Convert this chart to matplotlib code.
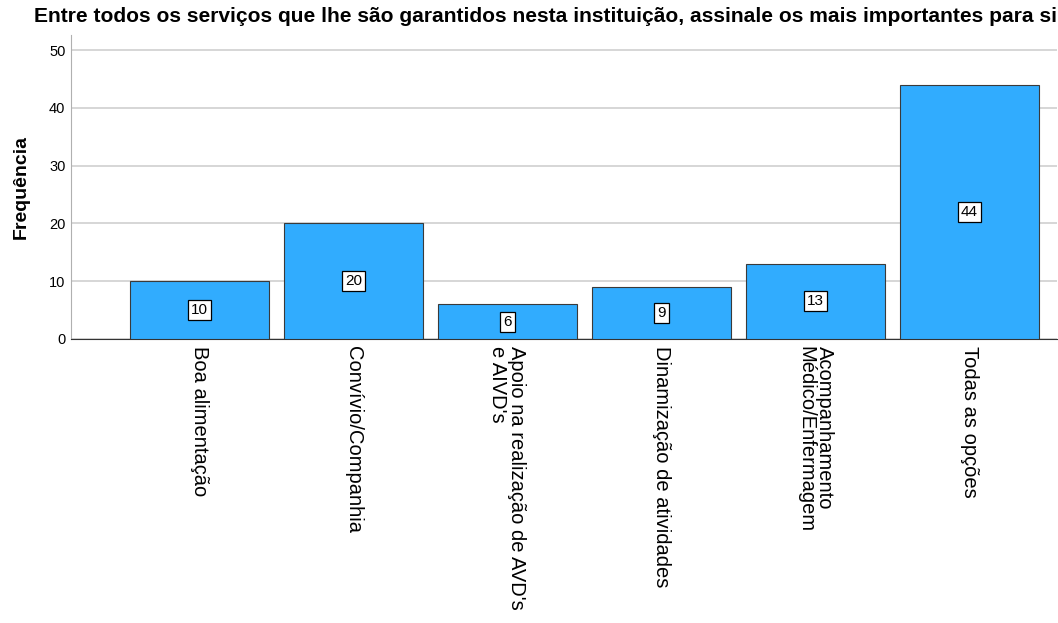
import numpy as np
import matplotlib
matplotlib.use("Agg")
import matplotlib.pyplot as plt

plt.rcParams['font.family'] = ['Liberation Sans', 'DejaVu Sans']

categorias = ['Boa alimentação', 'Convívio/Companhia',
              "Apoio na realização de AVD's\ne AIVD's",
              'Dinamização de atividades',
              'Acompanhamento\nMédico/Enfermagem', 'Todas as opções']
frequencia = [10, 20, 6, 9, 13, 44]
y_ticks = [0, 10, 20, 30, 40, 50]

fig = plt.figure(figsize=(10.58, 6.23), dpi=100)
ax = fig.add_axes([71/1058, (623-339)/623, (1057-71)/1058, (339-35)/623])

x = np.arange(len(categorias))
ax.bar(x, frequencia, width=0.9, color='#31acfe', edgecolor='#3a3a3a',
       linewidth=0.8, zorder=3)

# etiquetas com os valores no meio das barras
for i, v in enumerate(frequencia):
    ax.text(i, v / 2, str(v), ha='center', va='center', fontsize=11,
            zorder=4,
            bbox=dict(boxstyle='square,pad=0.2', fc='white', ec='black', lw=0.9))

ax.set_xlim(-0.834, 5.57)
ax.set_ylim(0, 52.6)
ax.set_yticks(y_ticks)
ax.tick_params(axis='y', length=0, labelsize=10.5, pad=4)
ax.tick_params(axis='x', length=0, pad=5)
ax.set_xticks(x)
ax.set_xticklabels(categorias, rotation=270, fontsize=14.5, va='top',
                   ha='center', multialignment='left', linespacing=1.0)
ax.grid(axis='y', color='#d0d0d0', linewidth=1.2, zorder=0)

for s in ['top', 'right']:
    ax.spines[s].set_visible(False)
ax.spines['left'].set_color('#b0b0b0')
ax.spines['bottom'].set_color('#333333')

ax.set_ylabel('Frequência', fontsize=14, fontweight='bold', labelpad=14)
fig.text(546/1058, 1 - 16/623,
         'Entre todos os serviços que lhe são garantidos nesta instituição, '
         'assinale os mais importantes para si',
         ha='center', va='center', fontsize=15.1, fontweight='bold')

fig.savefig('out.png', dpi=100)
